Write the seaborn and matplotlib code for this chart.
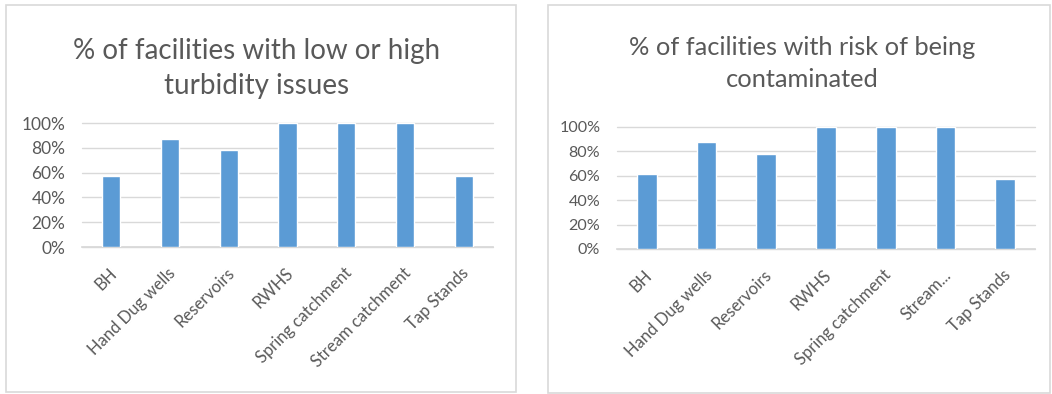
import matplotlib
matplotlib.use("Agg")
import matplotlib.pyplot as plt
import matplotlib.transforms as mtransforms
import seaborn as sns
import pandas as pd
from matplotlib.patches import Rectangle
from matplotlib.ticker import PercentFormatter

# Facility types and the share of each with the given issue
categories = ["BH", "Hand Dug wells", "Reservoirs", "RWHS",
              "Spring catchment", "Stream catchment", "Tap Stands"]
categories_short = ["BH", "Hand Dug wells", "Reservoirs", "RWHS",
                    "Spring catchment", "Stream...", "Tap Stands"]
turbidity = [0.57, 0.875, 0.78, 1.0, 1.0, 1.0, 0.57]
contamination = [0.615, 0.875, 0.78, 1.0, 1.0, 1.0, 0.57]
titles = ["% of facilities with low or high\nturbidity issues",
          "% of facilities with risk of being\ncontaminated"]
y_ticks = [0, 0.2, 0.4, 0.6, 0.8, 1.0]

BAR = "#5B9BD5"
TXT = "#595959"
GRID = "#D9D9D9"

sns.set_theme(style="white")
plt.rcParams["font.family"] = ["Lato", "DejaVu Sans"]

W, H = 1052, 394
fig = plt.figure(figsize=(W / 100, H / 100), dpi=100)


def px_axes(x0, x1, ytop, ybot):
    return fig.add_axes([x0 / W, (H - ybot) / H, (x1 - x0) / W, (ybot - ytop) / H])


def panel(x0, y0, x1, y1):
    fig.patches.append(Rectangle((x0 / W, (H - y1) / H), (x1 - x0) / W, (y1 - y0) / H,
                                 transform=fig.transFigure, fill=False,
                                 edgecolor=GRID, linewidth=1.2))


panels = [
    dict(box=(6, 5, 516, 392), ax=(82, 493, 123, 247), title_xy=(257, 68.5),
         values=turbidity, labels=categories, title=titles[0], width=0.31,
         title_size=20, ytick_size=12.5, xtick_size=12),
    dict(box=(548, 5, 1050, 393), ax=(617, 1035, 126.7, 249), title_xy=(802, 63.5),
         values=contamination, labels=categories_short, title=titles[1], width=0.33,
         title_size=18.3, ytick_size=11.6, xtick_size=12),
]

shift = mtransforms.ScaledTranslation(3 / 100, 0, fig.dpi_scale_trans)

for p in panels:
    panel(*p["box"])
    ax = px_axes(*p["ax"])
    df = pd.DataFrame({"cat": p["labels"], "val": p["values"]})
    sns.barplot(data=df, x="cat", y="val", color=BAR, saturation=1,
                width=p["width"], ax=ax, zorder=3)
    ax.set_ylim(0, 1.0)
    ax.set_xlim(-0.5, len(p["labels"]) - 0.5)
    ax.set_yticks(y_ticks)
    ax.yaxis.set_major_formatter(PercentFormatter(1.0, decimals=0))
    ax.grid(axis="y", color=GRID, linewidth=1.0, zorder=0)
    ax.grid(axis="x", visible=False)
    for g in ax.get_ygridlines():
        g.set_clip_on(False)
    for s in ["top", "right", "left"]:
        ax.spines[s].set_visible(False)
    ax.spines["bottom"].set_color(GRID)
    ax.set_xlabel("")
    ax.set_ylabel("")
    ax.tick_params(axis="y", length=0, pad=12, labelsize=p["ytick_size"], labelcolor=TXT)
    ax.tick_params(axis="x", length=0, pad=17, labelsize=p["xtick_size"], labelcolor=TXT)
    for lab in ax.get_yticklabels():
        lab.set_horizontalalignment("right")
    plt.setp(ax.get_xticklabels(), rotation=45, ha="right", va="center",
             rotation_mode="anchor")
    for lab in ax.get_xticklabels():
        lab.set_transform(lab.get_transform() + shift)
    tx, ty = p["title_xy"]
    fig.text(tx / W, (H - ty) / H, p["title"], ha="center", va="center",
             fontsize=p["title_size"], color=TXT, linespacing=1.45)

fig.savefig("out.png", dpi=100, facecolor="white")
